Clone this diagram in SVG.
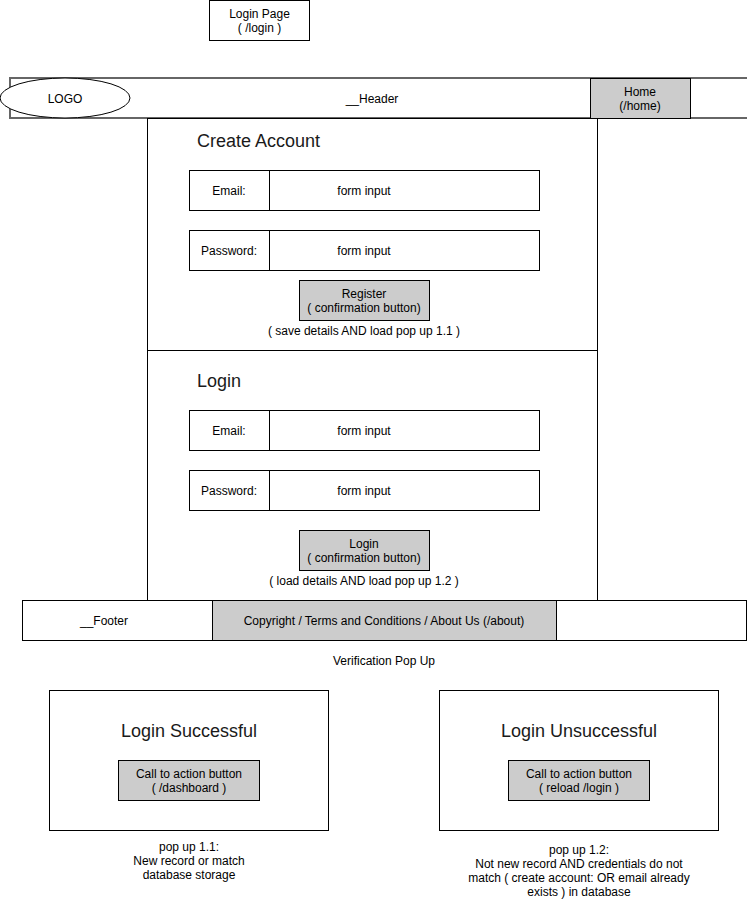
<svg xmlns="http://www.w3.org/2000/svg" width="747" height="899" viewBox="0 0 747 899">
<style>
text{font-family:"Liberation Sans",Arial,sans-serif;font-size:12px;fill:#000;text-anchor:middle;dominant-baseline:central;transform:translateY(1px)}
.big{font-size:18px;fill:#1a1a1a}
.b{fill:#fff;stroke:#000;stroke-width:1}
.g{fill:#ccc;stroke:#000;stroke-width:1}
.hd{fill:#fff;stroke:#666;stroke-width:2}
</style>
<rect width="747" height="899" fill="#fff"/>
<g id="login-page"><rect class="b" x="209.5" y="0.5" width="100" height="40"/><text x="259.5" y="13">Login Page</text><text x="259.5" y="27">( /login )</text></g>
<g id="header"><rect class="hd" x="10" y="78" width="745" height="40"/><text x="372" y="98">__Header</text></g>
<g id="logo"><ellipse class="b" cx="65" cy="98" rx="65" ry="20"/><text x="65" y="98">LOGO</text></g>
<g id="home"><rect class="g" x="590.5" y="78.5" width="100" height="40"/><text x="640" y="91">Home</text><text x="640" y="105">(/home)</text></g>
<g id="create-account"><rect class="b" x="147.5" y="118.5" width="450" height="232"/><text class="big" x="197" y="140" style="text-anchor:start">Create Account</text>
<rect class="b" x="189.5" y="170.5" width="350" height="40"/><line x1="269.5" y1="170.5" x2="269.5" y2="210.5" stroke="#000"/><text x="229" y="190">Email:</text><text x="364" y="190">form input</text>
<rect class="b" x="189.5" y="230.5" width="350" height="40"/><line x1="269.5" y1="230.5" x2="269.5" y2="270.5" stroke="#000"/><text x="229" y="250">Password:</text><text x="364" y="250">form input</text>
<rect class="g" x="299.5" y="280.5" width="130" height="40"/><text x="364" y="293">Register</text><text x="364" y="307">( confirmation button)</text>
<text x="364" y="330">( save details AND load pop up 1.1 )</text></g>
<g id="login"><rect class="b" x="147.5" y="350.5" width="450" height="250"/><text class="big" x="197" y="380" style="text-anchor:start">Login</text>
<rect class="b" x="189.5" y="410.5" width="350" height="40"/><line x1="269.5" y1="410.5" x2="269.5" y2="450.5" stroke="#000"/><text x="229" y="430">Email:</text><text x="364" y="430">form input</text>
<rect class="b" x="189.5" y="470.5" width="350" height="40"/><line x1="269.5" y1="470.5" x2="269.5" y2="510.5" stroke="#000"/><text x="229" y="490">Password:</text><text x="364" y="490">form input</text>
<rect class="g" x="299.5" y="530.5" width="130" height="40"/><text x="364" y="543">Login</text><text x="364" y="557">( confirmation button)</text>
<text x="364" y="580">( load details AND load pop up 1.2 )</text></g>
<g id="footer"><rect class="b" x="22.5" y="600.5" width="724" height="40"/><rect class="g" x="212.5" y="600.5" width="344" height="40"/><text x="104" y="620">__Footer</text><text x="384" y="620">Copyright / Terms and Conditions / About Us (/about)</text></g>
<g id="verification"><text x="384" y="660">Verification Pop Up</text></g>
<g id="popup-success"><rect class="b" x="49.5" y="690.5" width="279" height="140"/><text class="big" x="189" y="730">Login Successful</text>
<rect class="g" x="118.5" y="760.5" width="141" height="40"/><text x="189" y="773">Call to action button</text><text x="189" y="787">( /dashboard )</text>
<text x="189" y="846">pop up 1.1:</text><text x="189" y="860">New record or match</text><text x="189" y="874">database storage</text></g>
<g id="popup-fail"><rect class="b" x="439.5" y="690.5" width="279" height="140"/><text class="big" x="579" y="730">Login Unsuccessful</text>
<rect class="g" x="508.5" y="760.5" width="141" height="40"/><text x="579" y="773">Call to action button</text><text x="579" y="787">( reload /login )</text>
<text x="579" y="849">pop up 1.2:</text><text x="579" y="863">Not new record AND credentials do not</text><text x="579" y="877">match ( create account: OR email already</text><text x="579" y="891">exists ) in database</text></g>
<g id="connectors"></g>
</svg>
